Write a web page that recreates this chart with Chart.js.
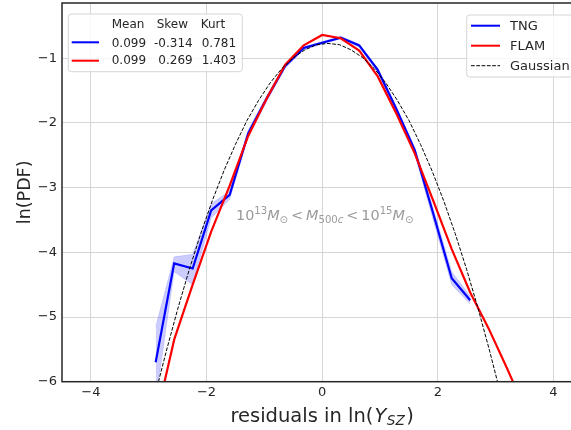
<!DOCTYPE html>
<html>
<head>
<meta charset="utf-8">
<script src="https://cdn.jsdelivr.net/npm/chart.js@4.4.1/dist/chart.umd.min.js"></script>
<style>
html,body{margin:0;padding:0;background:#fff;overflow:hidden;}
#wrap{position:relative;width:600px;height:430px;}
</style>
</head>
<body>
<div id="wrap"><canvas id="c" width="600" height="430"></canvas></div>
<script>
// ---- data ----
const tngX  = [-2.88,-2.56,-2.24,-1.92,-1.60,-1.28,-0.96,-0.64,-0.32,0.00,0.32,0.64,0.96,1.28,1.60,1.92,2.24,2.56];
const tngY  = [-5.70,-4.17,-4.25,-3.35,-3.11,-2.16,-1.62,-1.12,-0.84,-0.76,-0.68,-0.80,-1.18,-1.78,-2.42,-3.40,-4.40,-4.74];
const tngHi = [-5.15,-4.07,-4.03,-3.25,-3.05,-2.11,-1.58,-1.09,-0.82,-0.74,-0.66,-0.78,-1.15,-1.74,-2.37,-3.32,-4.30,-4.68];
const tngLo = [-6.30,-4.30,-4.50,-3.47,-3.18,-2.22,-1.67,-1.15,-0.87,-0.78,-0.70,-0.83,-1.22,-1.83,-2.48,-3.50,-4.50,-4.80];
const flamX = [-2.88,-2.56,-2.24,-1.92,-1.60,-1.28,-0.96,-0.64,-0.32,0.00,0.32,0.64,0.96,1.28,1.60,1.92,2.24,2.56,2.88,3.20,3.52];
const flamY = [-6.60,-5.35,-4.50,-3.68,-2.97,-2.20,-1.62,-1.10,-0.80,-0.64,-0.69,-0.88,-1.28,-1.85,-2.47,-3.20,-3.95,-4.62,-5.18,-5.80,-6.45];
const gaussX = [-2.9,-2.7,-2.5,-2.3,-2.1,-1.9,-1.7,-1.5,-1.3,-1.1,-0.9,-0.7,-0.5,-0.3,-0.1,0.1,0.3,0.5,0.7,0.9,1.1,1.3,1.5,1.7,1.9,2.1,2.3,2.5,2.7,2.9,3.1];
const gaussY = [-6.24,-5.54,-4.88,-4.27,-3.71,-3.20,-2.74,-2.33,-1.96,-1.65,-1.38,-1.16,-0.99,-0.87,-0.79,-0.77,-0.79,-0.87,-0.99,-1.16,-1.38,-1.65,-1.96,-2.33,-2.74,-3.20,-3.71,-4.27,-4.88,-5.54,-6.24];
const xTicks = [-4,-2,0,2,4];
const yTicks = [-6,-5,-4,-3,-2,-1];
const seriesNames = ['TNG','FLAM','Gaussian'];
const statHeaders = ['Mean','Skew','Kurt'];
const tngStats  = ['0.099','-0.314','0.781'];
const flamStats = ['0.099','0.269','1.403'];

const pts = (xs, ys) => xs.map((x,i)=>({x:x, y:ys[i]}));
const FONT = '"DejaVu Sans", sans-serif';
const TXT = '#262626';

function richWidth(ctx, parts, size){
  let w=0;
  for(const p of parts){
    ctx.font = (p.it?'italic ':'') + (size*(p.s||1)) + 'px ' + FONT;
    w += ctx.measureText(p.t).width + (p.sp||0);
  }
  return w;
}
function drawRich(ctx, x, y, parts, size){
  let cx=x;
  for(const p of parts){
    ctx.font = (p.it?'italic ':'') + (size*(p.s||1)) + 'px ' + FONT;
    ctx.fillText(p.t, cx, y + (p.dy||0)*size);
    cx += ctx.measureText(p.t).width + (p.sp||0);
  }
}
function roundRect(ctx,x,y,w,h,r){
  ctx.beginPath();
  ctx.moveTo(x+r,y);ctx.lineTo(x+w-r,y);ctx.quadraticCurveTo(x+w,y,x+w,y+r);
  ctx.lineTo(x+w,y+h-r);ctx.quadraticCurveTo(x+w,y+h,x+w-r,y+h);
  ctx.lineTo(x+r,y+h);ctx.quadraticCurveTo(x,y+h,x,y+h-r);
  ctx.lineTo(x,y+r);ctx.quadraticCurveTo(x,y,x+r,y);ctx.closePath();
}

const decor = {
  id:'decor',
  afterDraw(chart){
    const ctx=chart.ctx, a=chart.chartArea, xs=chart.scales.x, ys=chart.scales.y;
    ctx.save();
    // spines
    ctx.strokeStyle=TXT; ctx.lineWidth=1.5;
    ctx.strokeRect(a.left, a.top, a.right-a.left, a.bottom-a.top);

    // annotation
    ctx.fillStyle='#9a9a9a'; ctx.textAlign='left'; ctx.textBaseline='alphabetic';
    const ann=[
      {t:'10'},{t:'13',s:0.7,dy:-0.42},{t:'M',it:1},{t:'\u2299',s:0.7,dy:0.2,sp:3},
      {t:'<',sp:3},{t:'M',it:1},{t:'500',s:0.7,dy:0.2},{t:'c',it:1,s:0.7,dy:0.2,sp:3},
      {t:'<',sp:3},{t:'10'},{t:'15',s:0.7,dy:-0.42},{t:'M',it:1},{t:'\u2299',s:0.7,dy:0.2}
    ];
    drawRich(ctx, xs.getPixelForValue(-1.49), ys.getPixelForValue(-3.50), ann, 14.4);

    // left stats legend
    let bx=a.left+6.3, by=a.top+11;
    roundRect(ctx,bx,by,174,57.7,3);
    ctx.fillStyle='rgba(255,255,255,0.8)'; ctx.fill();
    ctx.strokeStyle='#d5d5d5'; ctx.lineWidth=1; ctx.stroke();
    ctx.fillStyle=TXT; ctx.font='12px '+FONT;
    ctx.textAlign='left';
    ctx.fillText(statHeaders[0], bx+43.4, by+14.3);
    ctx.fillText(statHeaders[1], bx+88.4, by+14.3);
    ctx.fillText(statHeaders[2], bx+132.4, by+14.3);
    const rows=[[tngStats,'#0000ff',by+28.3,by+32.7],[flamStats,'#ff0000',by+46.7,by+50.3]];
    for(const [st,col,ly,ty] of rows){
      ctx.strokeStyle=col; ctx.lineWidth=2; ctx.beginPath();
      ctx.moveTo(bx+3.4,ly); ctx.lineTo(bx+30.7,ly); ctx.stroke();
      ctx.fillStyle=TXT; ctx.textAlign='left';
      ctx.fillText(st[0], bx+43.4, ty);
      ctx.textAlign='right'; ctx.fillText(st[1], bx+124.4, ty);
      ctx.textAlign='left'; ctx.fillText(st[2], bx+133.4, ty);
    }

    // right series legend
    bx=466.7; by=a.top+12;
    roundRect(ctx,bx,by,110,62,3);
    ctx.fillStyle='rgba(255,255,255,0.8)'; ctx.fill();
    ctx.strokeStyle='#d5d5d5'; ctx.lineWidth=1; ctx.stroke();
    const sty=[['#0000ff',2,[]],['#ff0000',2,[]],['#000000',1,[3.7,1.6]]];
    ctx.font='13px '+FONT; ctx.textAlign='left';
    seriesNames.forEach((n,i)=>{
      const ly=by+10.7+20*i;
      ctx.strokeStyle=sty[i][0]; ctx.lineWidth=sty[i][1]; ctx.setLineDash(sty[i][2]);
      ctx.beginPath(); ctx.moveTo(bx+4.3,ly); ctx.lineTo(bx+33.3,ly); ctx.stroke();
      ctx.setLineDash([]);
      ctx.fillStyle=TXT; ctx.fillText(n, bx+43.3, ly+4.6);
    });

    // axis titles
    ctx.fillStyle=TXT;
    const xt=[{t:'residuals in ln(',sp:1},{t:'Y',it:1,sp:0.5},{t:'SZ',it:1,s:0.7,dy:0.18,sp:1.5},{t:')'}];
    const w=richWidth(ctx,xt,19.5);
    ctx.textAlign='left';
    drawRich(ctx,(a.left+a.right)/2 - w/2, 421.5, xt, 19.5);
    ctx.translate(25,(a.top+a.bottom)/2); ctx.rotate(-Math.PI/2);
    ctx.font='17.5px '+FONT; ctx.textAlign='center'; ctx.textBaseline='middle';
    ctx.fillText('ln(PDF)',0,0);
    ctx.restore();
  }
};

const fmt = v => (v<0?'\u2212':'') + Math.abs(v);

new Chart(document.getElementById('c'), {
  type:'scatter',
  data:{datasets:[
    {label:'Gaussian', data:pts(gaussX,gaussY), showLine:true, borderColor:'#000', borderWidth:1, borderDash:[3.7,1.6], pointRadius:0, clip:0, fill:false},
    {label:'FLAM', data:pts(flamX,flamY), showLine:true, borderColor:'#ff0000', borderWidth:2.2, pointRadius:0, clip:0, fill:false},
    {label:'TNG', data:pts(tngX,tngY), showLine:true, borderColor:'#0000ff', borderWidth:2.2, pointRadius:0, clip:0, fill:false},
    {label:'hi', data:pts(tngX,tngHi), showLine:true, borderColor:'rgba(0,0,255,0.15)', borderWidth:0.8, pointRadius:0, clip:0, fill:'+1', backgroundColor:'rgba(0,0,255,0.2)'},
    {label:'lo', data:pts(tngX,tngLo), showLine:true, borderColor:'rgba(0,0,255,0.15)', borderWidth:0.8, pointRadius:0, clip:0, fill:false}
  ]},
  options:{
    responsive:false, animation:false, devicePixelRatio:1,
    layout:{padding:{left:0,top:3,right:17.6,bottom:0}},
    plugins:{legend:{display:false}, tooltip:{enabled:false}},
    elements:{line:{tension:0}},
    scales:{
      x:{type:'linear', min:-4.5, max:4.5,
        afterBuildTicks(s){ s.ticks = xTicks.map(v=>({value:v})); },
        afterFit(s){ s.height=48.3; s.paddingLeft=0; s.paddingRight=0; },
        grid:{color:'#d6d6d6', lineWidth:1, drawTicks:false},
        border:{display:false},
        ticks:{color:TXT, font:{family:'DejaVu Sans', size:13}, padding:3, maxRotation:0, callback:fmt}
      },
      y:{type:'linear', min:-6, max:-0.145,
        afterBuildTicks(s){ s.ticks = yTicks.map(v=>({value:v})); },
        afterFit(s){ s.width=62; s.paddingTop=0; s.paddingBottom=0; },
        grid:{color:'#d6d6d6', lineWidth:1, drawTicks:false},
        border:{display:false},
        ticks:{color:TXT, font:{family:'DejaVu Sans', size:13}, padding:5, callback:fmt}
      }
    }
  },
  plugins:[decor]
});
</script>
</body>
</html>
